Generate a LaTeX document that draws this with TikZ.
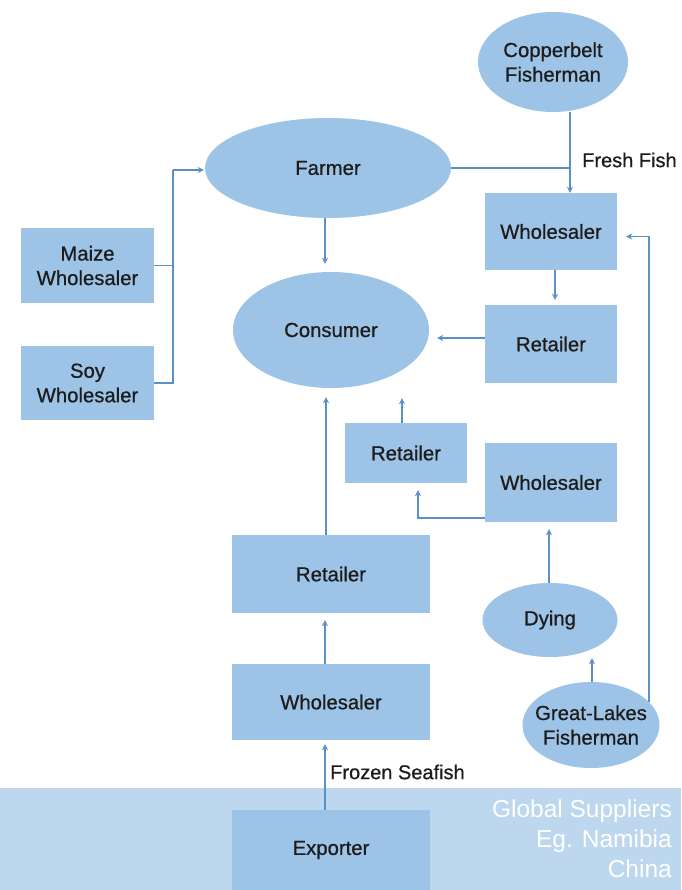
\documentclass[tikz,border=0pt]{standalone}
\usepackage{fontspec}
\setmainfont{Liberation Sans}
\newfontfamily\labelfont{Liberation Sans}[RawFeature={embolden=0.7}]
\usetikzlibrary{arrows.meta,shapes.geometric}
\definecolor{shapefill}{HTML}{9DC3E6}
\definecolor{bandfill}{HTML}{BDD7EE}
\definecolor{linkblue}{HTML}{5A8FC8}
\definecolor{ink}{HTML}{1C1C1C}
% zero-width line so an ellipse keeps its set size
\newcommand{\zline}[1]{\makebox[0pt]{#1}}
\tikzset{
  base/.style={fill=shapefill, draw=none, text=ink, align=center, inner sep=0pt,
    font=\labelfont\fontsize{20.3}{24.5}\selectfont},
  boxnode/.style={base, rectangle},
  ovalnode/.style={base, ellipse},
  arr/.style={draw=linkblue, line width=1.6pt, -{Stealth[length=6pt,width=6pt]}},
  link/.style={draw=linkblue, line width=1.6pt},
  lbl/.style={text=ink, font=\labelfont\fontsize{20}{24}\selectfont, inner sep=0pt},
}
\begin{document}
\begin{tikzpicture}[x=1pt,y=-1pt]
\useasboundingbox (0,0) rectangle (681,890);

% supplier band along the bottom
\fill[bandfill] (0,788) rectangle (681,890);
\node[anchor=north east, align=right, text=white, inner sep=0pt,
  font=\fontsize{24.5}{30}\selectfont] (global) at (672,800)
  {Global Suppliers\\Eg. Namibia\\China};

% actors
\node[ovalnode, minimum width=150pt, minimum height=100pt] (copper) at (553,62) {\zline{Copperbelt}\\\zline{Fisherman}};
\node[ovalnode, minimum width=246pt, minimum height=100pt] (farmer) at (328,168) {\zline{Farmer}};
\node[ovalnode, minimum width=196pt, minimum height=116pt] (consumer) at (331,330) {\zline{Consumer}};
\node[ovalnode, minimum width=135pt, minimum height=74pt] (dying) at (550,620) {\zline{Dying}};
\node[ovalnode, minimum width=137pt, minimum height=86pt] (great) at (591,725) {\zline{Great-Lakes}\\\zline{Fisherman}};

\node[boxnode, minimum width=133pt, minimum height=75pt] (maize) at (87.5,265.5) {Maize\\Wholesaler};
\node[boxnode, minimum width=133pt, minimum height=74pt] (soy) at (87.5,383) {Soy\\Wholesaler};
\node[boxnode, minimum width=132pt, minimum height=77pt] (wsA) at (551,231.5) {Wholesaler};
\node[boxnode, minimum width=132pt, minimum height=78pt] (retA) at (551,344) {Retailer};
\node[boxnode, minimum width=122pt, minimum height=60pt] (retB) at (406,453) {Retailer};
\node[boxnode, minimum width=132pt, minimum height=79pt] (wsB) at (551,482.5) {Wholesaler};
\node[boxnode, minimum width=198pt, minimum height=78pt] (retC) at (331,574) {Retailer};
\node[boxnode, minimum width=198pt, minimum height=76pt] (wsC) at (331,702) {Wholesaler};
\node[boxnode, minimum width=198pt, minimum height=80pt] (exporter) at (331,850) {Exporter};

% junction points
\coordinate (feedjoin) at (173,170);
\coordinate (fishjoin) at (570,168);

% feed supply into the farmer
\draw[link] (maize.east) -- (maize.east -| feedjoin);
\draw[link] (soy.east) -- (soy.east -| feedjoin) -- (feedjoin);
\draw[arr, shorten >=1pt] (feedjoin) -- (feedjoin -| farmer.west);

% fresh fish chain
\draw[link] (farmer.east) -- (fishjoin);
\draw[arr] ([xshift=17pt]copper.south) -- ([xshift=19pt]wsA.north);
\node[lbl, anchor=west] (fresh) at (582,160) {Fresh Fish};
\draw[arr, shorten >=5pt] ([xshift=4pt]wsA.south) -- ([xshift=4pt]retA.north);
\draw[arr, shorten >=8pt] ([yshift=6pt]retA.west) -- ([yshift=6pt]retA.west -| consumer.east);
\draw[arr, shorten >=8pt] ([xshift=-3pt]farmer.south) -- ([xshift=-6pt]consumer.north);

% great-lakes chain
\draw[arr, shorten >=9pt] (great.22) |- ([yshift=-5pt]wsA.east);
\draw[arr, shorten >=1pt] ([xshift=1pt]great.north) -- ([xshift=1pt]great.north |- dying.south);
\draw[arr, shorten >=7pt] ([xshift=-1pt]dying.north) -- ([xshift=-1pt]dying.north |- wsB.south);
\draw[arr, shorten >=7pt] ([yshift=4pt]wsB.south west) -| ([xshift=12pt]retB.south);
\draw[arr, shorten >=10pt] ([xshift=-4pt]retB.north) -- ([xshift=-4pt]retB.north |- consumer.south);

% frozen seafish chain
\draw[arr, shorten >=4pt] ([xshift=-6pt]exporter.north) -- ([xshift=-6pt]wsC.south);
\node[lbl, anchor=west] (frozen) at (330,772) {Frozen Seafish};
\draw[arr, shorten >=7pt] ([xshift=-6pt]wsC.north) -- ([xshift=-6pt]retC.south);
\draw[arr, shorten >=9pt] ([xshift=-5pt]retC.north) -- ([xshift=-5pt]consumer.south);
\end{tikzpicture}
\end{document}
